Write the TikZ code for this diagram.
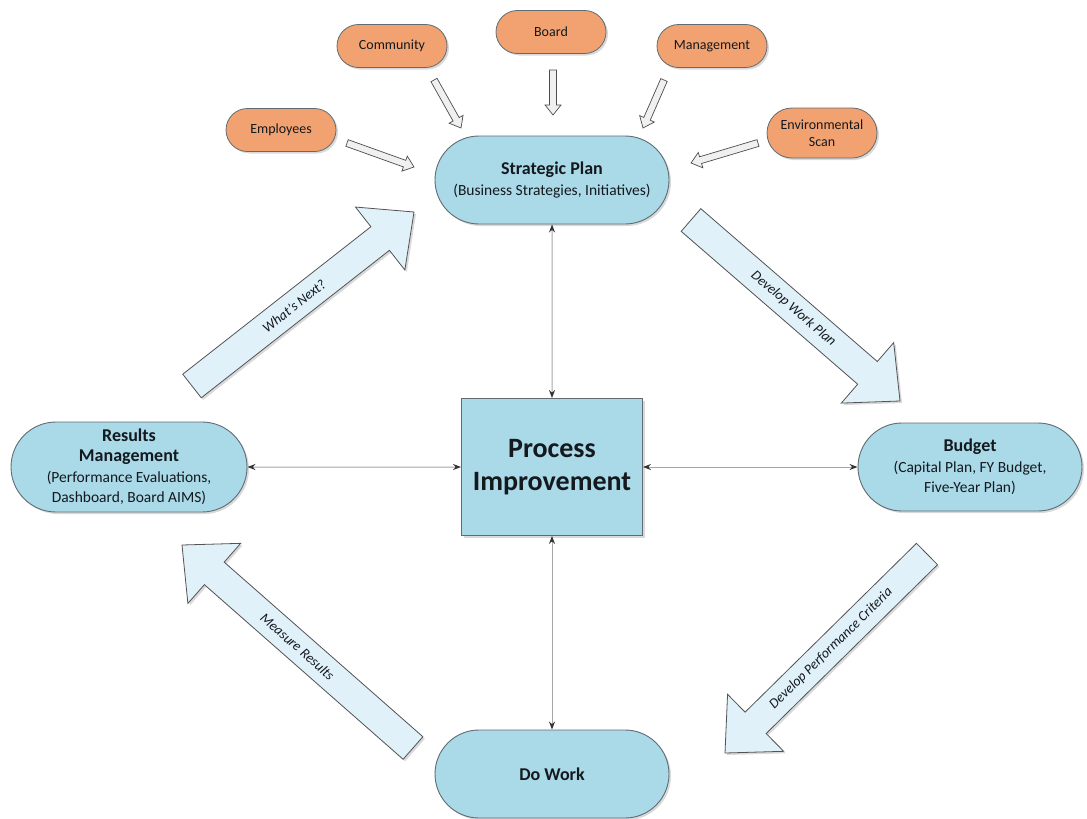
\documentclass[tikz,border=0pt]{standalone}
\usepackage{fontspec}
\setmainfont{Carlito}
\usetikzlibrary{shapes.misc,arrows.meta,shadows,calc}
\definecolor{pblue}{RGB}{170,217,232}
\definecolor{porange}{RGB}{242,162,112}
\definecolor{ablue}{RGB}{224,241,249}
\definecolor{pedge}{RGB}{95,108,115}
\definecolor{ptext}{RGB}{20,25,30}
% block arrow: #1 tail, #2 tip, #3 shaft half width, #4 head half width, #5 head length, #6 style
\newcommand\blkarrow[6]{%
  \coordinate (bah) at ($(#2)!#5!(#1)$);
  \draw[#6] ($(#1)!#3!90:(#2)$) -- ($(bah)!#3!-90:(#1)$) -- ($(bah)!#4!-90:(#1)$) -- (#2)
    -- ($(bah)!#4!90:(#1)$) -- ($(bah)!#3!90:(#1)$) -- ($(#1)!#3!-90:(#2)$) -- cycle;}
\tikzset{
  shadowed/.style={drop shadow={shadow xshift=2pt,shadow yshift=-2pt,opacity=0.3}},
  mainpill/.style={rounded rectangle, draw=pedge, line width=0.9pt, fill=pblue,
    minimum width=236pt, minimum height=88pt, align=center, text=ptext, inner sep=1pt,
    font=\fontsize{15.5}{20.5}\selectfont, shadowed},
  stake/.style={rounded rectangle, draw=pedge, line width=0.8pt, fill=porange,
    minimum width=112pt, minimum height=43pt, align=center, text=ptext, inner sep=1pt,
    font=\fontsize{14}{17}\selectfont, shadowed},
  procbox/.style={rectangle, draw=pedge, line width=0.9pt, fill=pblue,
    minimum width=181pt, minimum height=137pt, align=center, text=ptext,
    font=\bfseries\fontsize{28}{33}\selectfont, shadowed},
  dconn/.style={draw=gray!70, line width=1pt,
    {Stealth[length=8pt,width=6pt,color=gray!40!black]}-{Stealth[length=8pt,width=6pt,color=gray!40!black]}},
  bigarr/.style={draw=gray!65!black, line width=0.8pt, fill=ablue, shadowed},
  smallarr/.style={draw=gray!60!black, line width=0.7pt, fill=gray!12},
  arrtext/.style={font=\itshape\fontsize{14}{16}\selectfont, text=ptext},
  ttl/.style={}
}
\newcommand\ttlf{\bfseries\fontsize{18}{20.5}\selectfont}
\begin{document}
\begin{tikzpicture}[x=1pt,y=-1pt]
\useasboundingbox (0,0) rectangle (1087,819);

% main nodes
\node[mainpill] (sp) at (552,180) {{\ttlf Strategic Plan}\\(Business Strategies, Initiatives)};
\node[procbox] (pi) at (552,467) {Process\\Improvement};
\node[mainpill, minimum width=238pt, minimum height=90pt] (res) at (129,467)
  {{\ttlf Results}\\{\ttlf Management}\\(Performance Evaluations,\\Dashboard, Board AIMS)};
\node[mainpill, minimum width=226pt] (bud) at (970,467)
  {{\ttlf Budget}\\(Capital Plan, FY Budget,\\Five-Year Plan)};
\node[mainpill] (dw) at (552,774) {\ttlf Do Work};

% stakeholders
\node[stake] (emp) at (281,130) {Employees};
\node[stake] (com) at (392,46) {Community};
\node[stake] (brd) at (551,32) {Board};
\node[stake] (mgt) at (712,46) {Management};
\node[stake, minimum height=50pt] (env) at (822,133) {Environmental\\Scan};

% double connectors
\draw[dconn] (sp) -- (pi);
\draw[dconn] (pi) -- (res);
\draw[dconn] (pi) -- (bud);
\draw[dconn] (pi) -- (dw);

% small input arrows
\coordinate (e1) at (347,143); \coordinate (e2) at (414,167);
\coordinate (c1) at (434,80);  \coordinate (c2) at (461,128);
\coordinate (b1) at (553,70);  \coordinate (b2) at (553,115);
\coordinate (m1) at (664,80);  \coordinate (m2) at (643,128);
\coordinate (v1) at (758,143); \coordinate (v2) at (691,163);
\blkarrow{e1}{e2}{3.5pt}{8pt}{10pt}{smallarr}
\blkarrow{c1}{c2}{3.5pt}{8pt}{10pt}{smallarr}
\blkarrow{b1}{b2}{3.5pt}{8pt}{10pt}{smallarr}
\blkarrow{m1}{m2}{3.5pt}{8pt}{10pt}{smallarr}
\blkarrow{v1}{v2}{3.5pt}{8pt}{10pt}{smallarr}

% big cycle arrows
\coordinate (wn1) at (192,386); \coordinate (wn2) at (414,212);
\coordinate (dw1) at (691,220); \coordinate (dw2) at (900,401);
\coordinate (mr1) at (413,748); \coordinate (mr2) at (182,545);
\coordinate (dp1) at (927,554); \coordinate (dp2) at (725,753);
\blkarrow{wn1}{wn2}{15pt}{40pt}{43pt}{bigarr}
\blkarrow{dw1}{dw2}{15pt}{40pt}{43pt}{bigarr}
\blkarrow{mr1}{mr2}{15pt}{40pt}{43pt}{bigarr}
\blkarrow{dp1}{dp2}{15pt}{40pt}{43pt}{bigarr}
\path (wn1) -- (wn2) node[pos=0.46, sloped, arrtext] (twn) {What's Next?};
\path (dw1) -- (dw2) node[pos=0.49, sloped, arrtext] (tdw) {Develop Work Plan};
\path (mr1) -- (mr2) node[pos=0.50, sloped, arrtext] (tmr) {Measure Results};
\path (dp1) -- (dp2) node[pos=0.475, sloped, arrtext] (tdp) {Develop Performance Criteria};
\end{tikzpicture}
\end{document}
